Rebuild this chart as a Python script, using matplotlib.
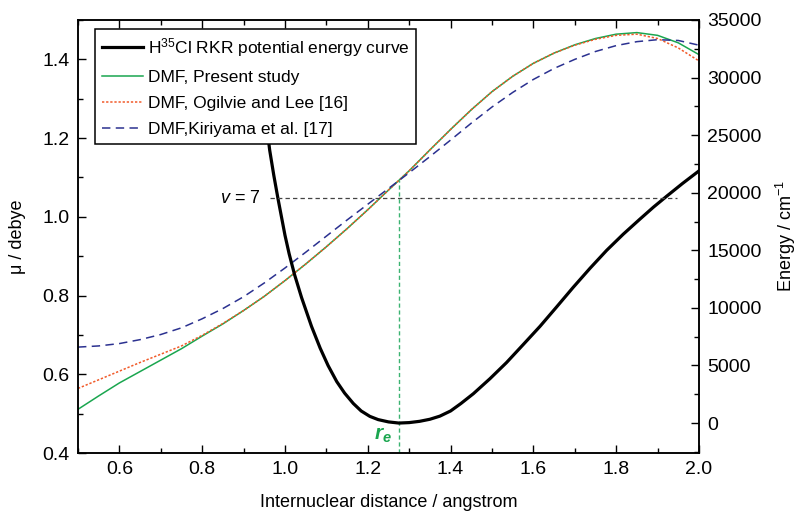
import matplotlib
matplotlib.use("Agg")
import matplotlib.pyplot as plt
from matplotlib.ticker import MultipleLocator

plt.rcParams['font.family'] = ['Liberation Sans', 'DejaVu Sans']
plt.rcParams['mathtext.fontset'] = 'custom'
plt.rcParams['mathtext.rm'] = 'Liberation Sans'
plt.rcParams['mathtext.it'] = 'Liberation Sans:italic'
plt.rcParams['mathtext.bf'] = 'Liberation Sans:bold'
plt.rcParams['mathtext.bfit'] = 'Liberation Sans:italic:bold'

# ---- data ----
r_dmf = [0.50, 0.55, 0.60, 0.65, 0.70, 0.75, 0.80, 0.85, 0.90, 0.95, 1.00, 1.05,
         1.10, 1.15, 1.20, 1.25, 1.30, 1.35, 1.40, 1.45, 1.50, 1.55, 1.60, 1.65,
         1.70, 1.75, 1.80, 1.85, 1.90, 1.95, 2.00]
mu_present = [0.511, 0.545, 0.578, 0.607, 0.636, 0.665, 0.697, 0.728, 0.762, 0.798,
              0.838, 0.880, 0.924, 0.970, 1.018, 1.068, 1.117, 1.170, 1.222, 1.272,
              1.318, 1.357, 1.390, 1.416, 1.437, 1.453, 1.464, 1.468, 1.461, 1.442, 1.412]
mu_ogilvie = [0.564, 0.586, 0.608, 0.630, 0.651, 0.672, 0.699, 0.729, 0.762, 0.798,
              0.838, 0.880, 0.924, 0.970, 1.018, 1.068, 1.117, 1.170, 1.222, 1.272,
              1.318, 1.357, 1.390, 1.416, 1.436, 1.451, 1.461, 1.464, 1.453, 1.429, 1.396]
mu_kiriyama = [0.669, 0.672, 0.678, 0.688, 0.701, 0.718, 0.741, 0.767, 0.797, 0.832,
               0.870, 0.910, 0.951, 0.992, 1.032, 1.072, 1.112, 1.153, 1.195, 1.238,
               1.279, 1.316, 1.349, 1.377, 1.400, 1.420, 1.435, 1.445, 1.450, 1.448, 1.436]

r_rkr = [0.950, 0.963, 0.973, 0.983, 1.000, 1.010, 1.023, 1.040, 1.064, 1.085, 1.104,
         1.125, 1.144, 1.165, 1.184, 1.205, 1.225, 1.250, 1.275, 1.300, 1.325, 1.350,
         1.374, 1.400, 1.425, 1.455, 1.495, 1.535, 1.575, 1.616, 1.656, 1.696, 1.737,
         1.777, 1.817, 1.857, 1.890, 1.922, 1.960, 2.000]
E_rkr = [27500, 23700, 21500, 19500, 16300, 14700, 12900, 10900, 8400, 6500, 5000,
         3600, 2600, 1700, 1050, 580, 300, 100, 0, 40, 150, 330,
         600, 1050, 1700, 2550, 3850, 5250, 6800, 8400, 10080, 11780, 13450,
         15000, 16400, 17700, 18750, 19700, 20800, 21900]

r_e = 1.2746
mu_re = 1.093
v7_energy = 19500
v7_range = [0.963, 1.947]

x_ticks = [0.6, 0.8, 1.0, 1.2, 1.4, 1.6, 1.8, 2.0]
mu_ticks = [0.4, 0.6, 0.8, 1.0, 1.2, 1.4]
E_ticks = [0, 5000, 10000, 15000, 20000, 25000, 30000, 35000]

labels = [r'H$^{35}$Cl RKR potential energy curve', 'DMF, Present study',
          'DMF, Ogilvie and Lee [16]', 'DMF,Kiriyama et al. [17]']

c_green = '#1aa64f'
c_orange = '#f15a29'
c_blue = '#2b3190'

fig = plt.figure(figsize=(7.99, 5.14), dpi=100)
ax = fig.add_axes([78/799, 61/514, 621/799, 433/514])
ax2 = ax.twinx()

l_g, = ax.plot(r_dmf, mu_present, color=c_green, lw=1.1)
l_o, = ax.plot(r_dmf, mu_ogilvie, color=c_orange, lw=1.1, linestyle=(0, (1.5, 1.2)))
l_b, = ax.plot(r_dmf, mu_kiriyama, color=c_blue, lw=1.1, linestyle=(0, (5.5, 3.5)))

# r_e vertical line
ax.plot([r_e, r_e], [0.4, mu_re], color='#3cb371', lw=1.0, linestyle=(0, (3, 2)))

l_k, = ax2.plot(r_rkr, E_rkr, color='black', lw=2.3, solid_joinstyle='round')
ax2.plot(v7_range, [v7_energy, v7_energy], color='#444444', lw=0.9, linestyle=(0, (3.5, 2.5)))

ax.set_xlim(0.5, 2.0)
ax.set_ylim(0.4, 1.5)
ax2.set_ylim(-2600, 35000)

ax.set_xticks(x_ticks)
ax.xaxis.set_minor_locator(MultipleLocator(0.1))
ax.set_yticks(mu_ticks)
ax.yaxis.set_minor_locator(MultipleLocator(0.1))
ax2.set_yticks(E_ticks)
ax2.yaxis.set_minor_locator(MultipleLocator(2500))
ax.set_xticklabels([f'{v:.1f}' for v in x_ticks])
ax.set_yticklabels([f'{v:.1f}' for v in mu_ticks])
ax2.set_yticklabels([f'{v:d}' for v in E_ticks])

for a in (ax, ax2):
    for s in a.spines.values():
        s.set_linewidth(1.1)
ax.tick_params(axis='both', which='major', direction='in', length=6, width=1.0,
               labelsize=14, pad=6)
ax.tick_params(axis='both', which='minor', direction='in', length=3.5, width=1.0)
ax.tick_params(axis='x', which='both', top=True)
ax.tick_params(axis='y', which='both', right=False)
ax2.tick_params(axis='y', which='major', direction='in', length=6, width=1.0,
                labelsize=14, pad=6)
ax2.tick_params(axis='y', which='minor', direction='in', length=3.5, width=1.0)

ax.set_xlabel('Internuclear distance / angstrom', fontsize=13, labelpad=11)
ax.set_ylabel('μ / debye', fontsize=13, labelpad=12)
ax2.set_ylabel(r'Energy / cm$^{-1}$', fontsize=13, labelpad=9)

ax2.text(0.942, v7_energy, r'$v$ = 7', fontsize=13, ha='right', va='center')
ax.annotate(r'$\mathbfit{r}_\mathbfit{e}$', xy=(r_e, 0.4), xytext=(-5, 6),
            textcoords='offset points', fontsize=15, color=c_green,
            ha='right', va='bottom')

leg = ax2.legend([l_k, l_g, l_o, l_b], labels, loc='upper left',
                 bbox_to_anchor=(17/621, 1 - 9/433), borderaxespad=0,
                 fontsize=12.5, frameon=True, fancybox=False, framealpha=1,
                 edgecolor='black', handlelength=2.35, handletextpad=0.3,
                 labelspacing=0.62, borderpad=0.4)
leg.get_frame().set_linewidth(1.1)

fig.savefig('out.png', dpi=100)
